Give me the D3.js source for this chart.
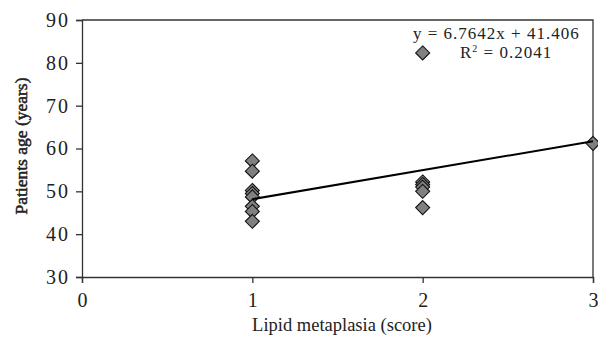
<!DOCTYPE html>
<html>
<head>
<meta charset="utf-8">
<script src="https://cdn.jsdelivr.net/npm/d3@7"></script>
<style>
  body { margin: 0; background: #fff; }
  text { font-family: "Liberation Serif", "DejaVu Serif", serif; fill: #222; }
</style>
</head>
<body>
<script>
// lipid metaplasia score vs patient age, with linear trend line
var scores = [1, 1, 1, 1, 1, 1, 1, 1, 2, 2, 2, 2, 2, 2, 3];
var ages   = [57.1, 54.7, 50.2, 49.5, 48.7, 46.5, 45.3, 43, 52.2, 51.6, 51, 50, 46.2, 82.3, 61.2];
var xTicks = [0, 1, 2, 3];
var yTicks = [30, 40, 50, 60, 70, 80, 90];
var trendSlope = 6.7642;
var trendIntercept = 41.406;
var trendRange = [1, 3];

var width = 598, height = 338;
var margin = {top: 20, right: 5, bottom: 61, left: 82};

var svg = d3.select("body").append("svg")
            .attr("width", width)
            .attr("height", height);

var x = d3.scaleLinear().domain([0, 3]).range([margin.left, width - margin.right]);
var y = d3.scaleLinear().domain([30, 90]).range([height - margin.bottom, margin.top]);

// frame (top and right)
svg.append("path")
   .attr("d", "M" + x(0) + "," + y(90) + "H" + x(3) + "V" + y(30))
   .attr("fill", "none")
   .attr("stroke", "#333")
   .attr("stroke-width", 1.3);

var xAxis = svg.append("g")
   .attr("transform", "translate(0," + y(30) + ")")
   .call(d3.axisBottom(x).tickValues(xTicks).tickSize(6).tickPadding(10).tickFormat(d3.format("d")));

var yAxis = svg.append("g")
   .attr("transform", "translate(" + x(0) + ",0)")
   .call(d3.axisLeft(y).tickValues(yTicks).tickSize(6).tickPadding(6).tickFormat(d3.format("d")));

[xAxis, yAxis].forEach(function(a){
  a.select(".domain").attr("stroke", "#333").attr("stroke-width", 1.3);
  a.selectAll(".tick line").attr("stroke", "#333").attr("stroke-width", 1.3);
  a.selectAll(".tick text")
   .style("font-family", "Liberation Serif, serif")
   .style("font-size", "20px")
   .style("letter-spacing", "2px")
   .attr("fill", "#222");
});
xAxis.selectAll(".tick text").attr("dx", 1);

// points
var diamond = d3.symbol().type(d3.symbolDiamond2).size(125);
svg.selectAll(".pt")
   .data(scores)
   .enter().append("path")
     .attr("class", "pt")
     .attr("d", diamond)
     .attr("transform", function(d, i){ return "translate(" + x(d) + "," + y(ages[i]) + ")"; })
     .attr("fill", "#808080")
     .attr("stroke", "#111")
     .attr("stroke-width", 1.1);

// trend line
svg.append("line")
   .attr("x1", x(trendRange[0]))
   .attr("y1", y(trendSlope * trendRange[0] + trendIntercept))
   .attr("x2", x(trendRange[1]))
   .attr("y2", y(trendSlope * trendRange[1] + trendIntercept))
   .attr("stroke", "#000")
   .attr("stroke-width", 2);

// equation labels
svg.append("text")
   .attr("x", 413).attr("y", 39)
   .style("font-size", "17px")
   .style("letter-spacing", "1px")
   .text("y = " + trendSlope + "x + " + trendIntercept);

var r2 = svg.append("text")
   .attr("x", 460).attr("y", 58)
   .style("font-size", "17px")
   .style("letter-spacing", "1px");
r2.append("tspan").text("R");
r2.append("tspan").attr("dy", -6).style("font-size", "10px").text("2");
r2.append("tspan").attr("dy", 6).text(" = 0.2041");

// axis titles
svg.append("text")
   .attr("transform", "translate(27," + 146 + ") rotate(-90)")
   .attr("text-anchor", "middle")
   .style("font-size", "17.5px")
   .style("stroke", "#222")
   .style("stroke-width", "0.5px")
   .text("Patients age (years)");

svg.append("text")
   .attr("x", 342)
   .attr("y", 331)
   .attr("text-anchor", "middle")
   .style("font-size", "18.5px")
   .text("Lipid metaplasia (score)");
</script>
</body>
</html>
